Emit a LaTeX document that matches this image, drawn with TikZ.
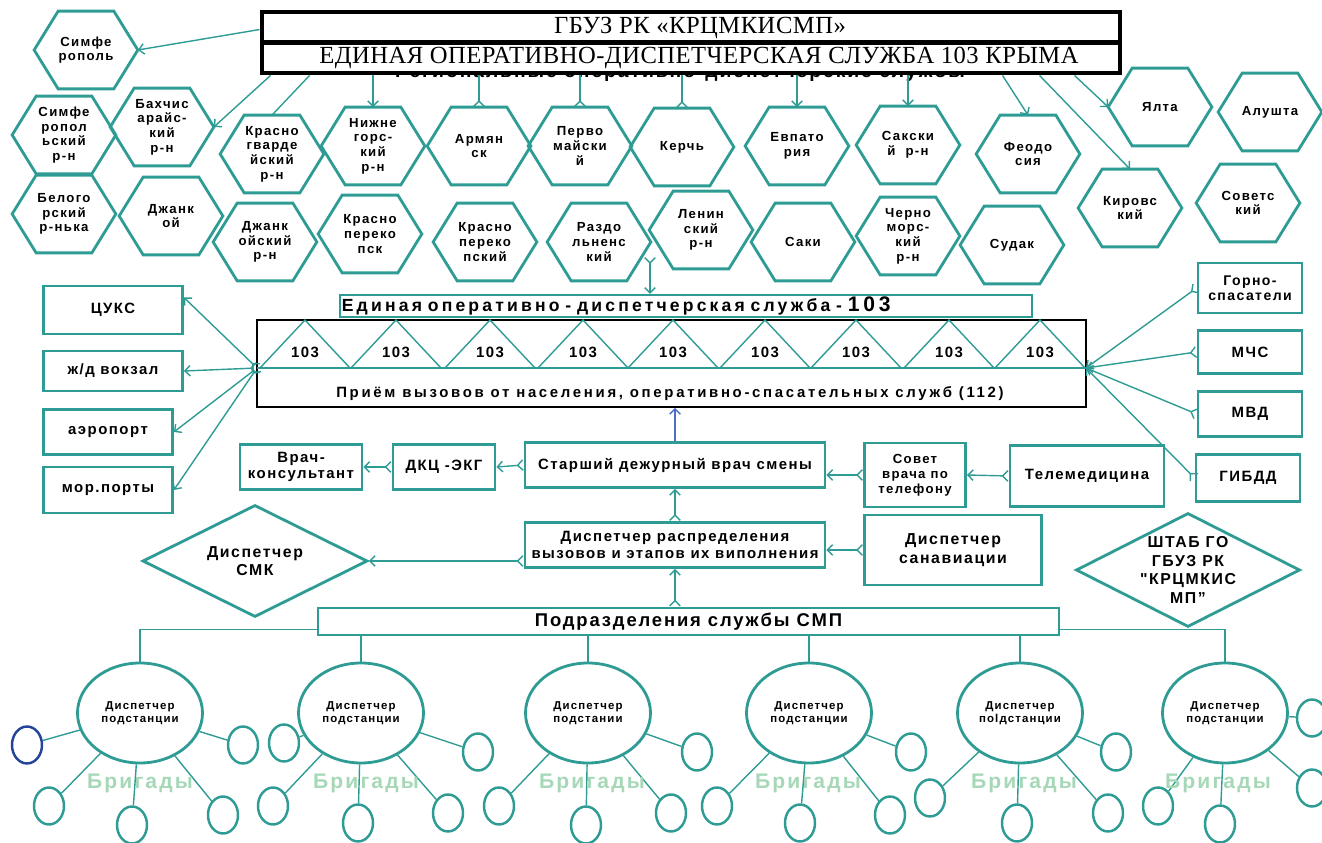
\documentclass[tikz,border=0pt]{standalone}
\usepackage{fontspec}
\setmainfont{Liberation Sans}
\newfontfamily\lblfont[LetterSpace=10]{Liberation Sans}
\newfontfamily\lblwide[LetterSpace=18]{Liberation Sans}
\newfontfamily\hdrfont[LetterSpace=2]{Liberation Serif}
\usetikzlibrary{arrows.meta, positioning, shapes.geometric, calc}
\definecolor{smpteal}{HTML}{2E9C94}
\definecolor{smpblue}{HTML}{4A6FC4}
\definecolor{smpnavy}{HTML}{23449A}
\definecolor{smpgreen}{HTML}{A6D8B8}

\tikzset{
  hexbox/.style={minimum width=20.6mm, minimum height=15.4mm, inner sep=0pt, align=center,
    font=\lblfont\bfseries\fontsize{7.5}{8.3}\selectfont},
  hexline/.style={smpteal, line width=1.6pt, line join=miter},
  tealbox/.style={draw=smpteal, line width=1.6pt, inner sep=1pt, align=center,
    font=\lblfont\bfseries\fontsize{8.5}{9.5}\selectfont},
  conn/.style={smpteal, line width=0.8pt},
  tip/.style={conn, -{Straight Barb[length=3pt,width=6pt]}},
  tail/.style={conn, {Straight Barb[reversed,length=3pt,width=6pt]}-},
  flow/.style={conn, {Straight Barb[reversed,length=3pt,width=6pt]}-{Straight Barb[length=3pt,width=6pt]}},
  disp/.style={ellipse, draw=smpteal, line width=1.6pt, minimum width=25mm, minimum height=20mm,
    inner sep=0pt, align=center, font=\lblfont\bfseries\fontsize{6.5}{7.5}\selectfont},
  brig/.style={ellipse, draw=smpteal, line width=1.4pt, minimum width=6mm, minimum height=7.4mm, inner sep=0pt},
  brlbl/.style={smpgreen, font=\lblfont\bfseries\fontsize{12}{12}\selectfont},
  rhomb/.style={diamond, aspect=2, draw=smpteal, line width=1.6pt, inner sep=0pt},
  rhlbl/.style={align=center, font=\lblfont\bfseries\fontsize{9}{10.5}\selectfont},
}

\begin{document}
\begin{tikzpicture}[x=0.2mm, y=-0.2mm]
  \useasboundingbox (0,0) rectangle (1322,843);

  % header, with the regional line half hidden under it
  \node[anchor=base, font=\lblfont\bfseries\fontsize{11}{11}\selectfont] (regtxt) at (680,78)
    {Региональные оперативно-диспетчерские службы};
  \node[draw=black, fill=white, line width=2.8pt, minimum width=171.6mm, minimum height=12.2mm, inner sep=0pt]
    (hdr) at (691,42.5) {};
  \draw[black, line width=2.8pt] (hdr.west) -- (hdr.east);
  \node[font=\hdrfont\fontsize{14}{14}\selectfont] (hdrtop) at (700,28) {ГБУЗ РК «КРЦМКИСМП»};
  \node[font=\hdrfont\fontsize{14}{14}\selectfont] (hdrbot) at (699,58)
    {ЕДИНАЯ ОПЕРАТИВНО-ДИСПЕТЧЕРСКАЯ СЛУЖБА 103 КРЫМА};

  % regional services
  \foreach \nm/\cx/\cy/\txt in {
      simf/86/50/{Симфе\\рополь},
      simfr/64/135/{Симфе\\ропол\\ьский\\р-н},
      bakh/162/127/{Бахчис\\арайс-\\кий\\р-н},
      krgv/272/154/{Красно\\гварде\\йский\\р-н},
      nizh/373/146/{Нижне\\горс-\\кий\\р-н},
      arm/479/146/{Армян\\ск},
      perv/580/146/{Перво\\майски\\й},
      kerch/682/147/{Керчь},
      evp/797/146/{Евпато\\рия},
      saksr/908/145/{Сакски\\й~~р-н},
      feod/1028/154/{Феодо\\сия},
      yalta/1160/107/{Ялта},
      alush/1270/112/{Алушта},
      belog/64/214/{Белого\\рский\\р-нька},
      dzh/171/216/{Джанк\\ой},
      dzhr/265/242/{Джанк\\ойский\\р-н},
      krper/370/234/{Красно\\переко\\пск},
      krperr/485/242/{Красно\\переко\\пский},
      razd/599/242/{Раздо\\льненс\\кий},
      lenin/701/230/{Ленин\\ский\\р-н},
      saki/803/242/{Саки},
      chern/908/236/{Черно\\морс-\\кий\\р-н},
      sudak/1012/245/{Судак},
      kir/1130/208/{Кировс\\кий},
      sov/1248/203/{Советс\\кий}} {
    \node[hexbox] (\nm) at (\cx,\cy) {\txt};
    \draw[hexline] (\nm.west) -- ($(\nm.north west)+(24,0)$) -- ($(\nm.north east)+(-24,0)$)
      -- (\nm.east) -- ($(\nm.south east)+(-24,0)$) -- ($(\nm.south west)+(24,0)$) -- cycle;
  }

  % header to regions
  \draw[tip] ($(hdr.north west)+(0,20)$) -- (simf.east);
  \draw[tip] ($(hdr.south west)+(11,0)$) -- (bakh.east);
  \draw[conn] ($(hdr.south west)+(50,0)$) -- (krgv.north);
  \draw[tip] (nizh.north |- hdr.south) -- (nizh.north);
  \draw[tail] (arm.north) -- (arm.north |- hdr.south);
  \draw[tail] (perv.north) -- (perv.north |- hdr.south);
  \draw[tail] (kerch.north) -- (kerch.north |- hdr.south);
  \draw[tip] (evp.north |- hdr.south) -- (evp.north);
  \draw[tip] (saksr.north |- hdr.south) -- (saksr.north);
  \draw[tip] ($(hdr.south west)+(743,0)$) -- (feod.north);
  \draw[tip] ($(hdr.south west)+(780,0)$) -- (kir.north);
  \draw[tip] ($(hdr.south west)+(815,0)$) -- (yalta.west);

  % 103 block
  \node[draw=smpteal, line width=1pt, anchor=west, text width=137.6mm, minimum height=4.4mm,
    inner sep=0.4mm, align=left, font=\lblwide\bfseries\fontsize{10}{10}\selectfont] (banner) at (339,306)
    {Единая оперативно - диспетчерская служба - {\fontsize{12}{12}\selectfont 103}};
  \node[draw=black, line width=1.1pt, minimum width=165.8mm, minimum height=17.4mm, inner sep=0pt]
    (main) at (671.5,363.5) {};
  \coordinate (lhub) at (257,368);
  \coordinate (rhub) at (1086,368);
  \draw[conn] (lhub) -- (rhub);
  \foreach \a in {305,396,490,583,673,765,856,949,1040} {
    \draw[conn] (\a-45,368) -- (\a,320) -- (\a+45,368);
    \node[font=\lblfont\bfseries\fontsize{8.5}{9}\selectfont] (n\a) at (\a,352) {103};
  }
  \node[font=\lblwide\bfseries\fontsize{8.5}{9}\selectfont] (calls) at (670,394)
    {Приём вызовов от населения, оперативно-спасательных служб (112)};
  \coordinate (rzd) at (650,257);
  \draw[flow] (rzd) -- (rzd |- banner.north);

  % outside services
  \node[tealbox, minimum width=27.8mm, minimum height=9.6mm] (cuks) at (113,310) {ЦУКС};
  \node[tealbox, minimum width=27.8mm, minimum height=8mm] (zhd) at (113,371) {ж/д вокзал};
  \node[tealbox, minimum width=25.8mm, minimum height=9mm] (aero) at (108,432) {аэропорт};
  \node[tealbox, minimum width=25.8mm, minimum height=9.2mm] (mor) at (108,490) {мор.порты};
  \node[tealbox, minimum width=20.8mm, minimum height=10mm,
    font=\lblfont\bfseries\fontsize{8}{8.8}\selectfont] (gorno) at (1250,288) {Горно-\\спасатели};
  \node[tealbox, minimum width=20.8mm, minimum height=8.6mm] (mchs) at (1250,352) {МЧС};
  \node[tealbox, minimum width=20.8mm, minimum height=9mm] (mvd) at (1250,414) {МВД};
  \node[tealbox, minimum width=20.8mm, minimum height=9.4mm] (gibdd) at (1248,478) {ГИБДД};
  \foreach \b/\anc in {cuks/10, zhd/east, aero/east, mor/east}
    \draw[flow] (lhub) -- (\b.\anc);
  \foreach \b in {gorno, mchs, mvd, gibdd}
    \draw[flow] (\b.west) -- (rhub);

  % doctors and dispatchers
  \node[tealbox, minimum width=24.4mm, minimum height=9mm] (vrach) at (301,467) {Врач-\\консультант};
  \node[tealbox, minimum width=20.4mm, minimum height=9mm] (dkc) at (444,467) {ДКЦ -ЭКГ};
  \node[tealbox, minimum width=60mm, minimum height=9mm] (star) at (675,465) {Старший дежурный врач смены};
  \node[tealbox, minimum width=20.2mm, minimum height=12.8mm,
    font=\lblfont\bfseries\fontsize{7.5}{8.6}\selectfont] (sovet) at (915,475) {Совет\\врача по\\телефону};
  \node[tealbox, minimum width=30.8mm, minimum height=12.2mm] (tele) at (1087,476) {Телемедицина};
  \node[tealbox, minimum width=35.4mm, minimum height=14mm,
    font=\lblfont\bfseries\fontsize{9}{11}\selectfont] (sanav) at (953,550) {Диспетчер\\санавиации};
  \node[tealbox, minimum width=60mm, minimum height=9mm] (raspr) at (675,545)
    {Диспетчер распределения\\вызовов и этапов их виполнения};
  \node[tealbox, minimum width=148.2mm, minimum height=5.4mm,
    font=\lblfont\bfseries\fontsize{10.5}{11}\selectfont] (smp) at (688.5,621.5) {Подразделения службы СМП};
  \node[rhomb, minimum width=45mm, minimum height=22.4mm] (smk) at (255,561) {};
  \node[rhlbl] (smktxt) at (smk) {Диспетчер\\СМК};
  \node[rhomb, minimum width=44.8mm, minimum height=22.8mm] (shtab) at (1188,570) {};
  \node[rhlbl] (shtabtxt) at (shtab) {ШТАБ ГО\\ГБУЗ РК\\"КРЦМКИС\\МП”};

  \draw[flow] (star.west) -- (dkc.east);
  \draw[flow] (dkc.west) -- (vrach.east);
  \draw[flow] (tele.west) -- (sovet.east);
  \draw[flow] (sovet.west) -- (sovet.west -| star.east);
  \draw[flow] (sanav.west) -- (sanav.west -| raspr.east);
  \draw[flow] (raspr.west |- smk.east) -- (smk.east);
  \draw[flow] (raspr.north) -- (star.south);
  \draw[flow] (raspr.south |- smp.north) -- (raspr.south);
  \draw[smpblue, line width=0.8pt, -{Straight Barb[length=3pt,width=6pt]}] (star.north) -- (star.north |- main.south);

  % substations
  \node[disp] (d1) at (140,713) {Диспетчер\\подстанции};
  \node[disp] (d2) at (361,713) {Диспетчер\\подстанции};
  \node[disp] (d3) at (588,713) {Диспетчер\\подстании};
  \node[disp] (d4) at (809,713) {Диспетчер\\подстанции};
  \node[disp] (d5) at (1020,713) {Диспетчер\\поlдстанции};
  \node[disp] (d6) at (1225,713) {Диспетчер\\подстанции};
  \draw[conn] ([yshift=-1.6mm]smp.west) -| (d1.north);
  \draw[conn] ([yshift=-1.6mm]smp.east) -| (d6.north);
  \foreach \d in {d2,d3,d4,d5}
    \draw[conn] (\d.north) -- (\d.north |- smp.south);

  % brigades
  \node[brig, draw=smpnavy] (b1a) at (27,745) {};
  \foreach \nm/\cx/\cy in {b1b/243/745, b1c/49/806, b1d/132/825, b1e/223/815,
      b2a/284/743, b2b/478/752, b2c/273/806, b2d/358/823, b2e/448/813,
      b3a/697/752, b3b/499/806, b3c/586/825, b3d/671/813,
      b4a/911/752, b4b/717/806, b4c/800/823, b4d/890/815,
      b5a/1116/752, b5b/930/798, b5c/1017/823, b5d/1108/813,
      b6a/1312/718, b6b/1312/788, b6c/1158/806, b6d/1220/824}
    \node[brig] (\nm) at (\cx,\cy) {};
  \foreach \d/\b in {d1/b1a, d1/b1b, d1/b1c, d1/b1d, d1/b1e,
      d2/b2a, d2/b2b, d2/b2c, d2/b2d, d2/b2e,
      d3/b3a, d3/b3b, d3/b3c, d3/b3d,
      d4/b4a, d4/b4b, d4/b4c, d4/b4d,
      d5/b5a, d5/b5b, d5/b5c, d5/b5d,
      d6/b6a, d6/b6b, d6/b6c, d6/b6d}
    \draw[conn] (\d) -- (\b);
  \foreach \nm/\cx in {g1/140, g2/366, g3/592, g4/808, g5/1024, g6/1218}
    \node[brlbl] (\nm) at (\cx,783) {Бригады};
\end{tikzpicture}
\end{document}
